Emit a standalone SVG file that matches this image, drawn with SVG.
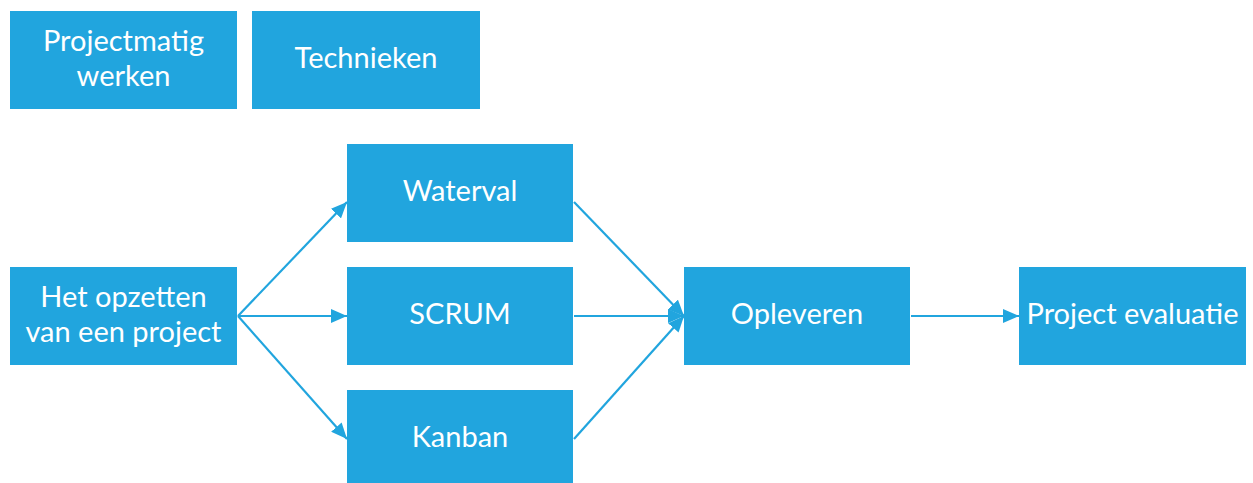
<svg xmlns="http://www.w3.org/2000/svg" width="1253" height="483" viewBox="0 0 1253 483">
<style>
.box{fill:#21a5de;}
.t{font-family:Lato,"Open Sans","Liberation Sans",sans-serif;font-size:29px;fill:#ffffff;text-anchor:middle;}
.c{stroke:#21a5de;stroke-width:2.2;fill:none;}
</style>
<defs>
<marker id="ah" markerWidth="16" markerHeight="14" refX="16" refY="7" orient="auto" markerUnits="userSpaceOnUse">
<path d="M0,0 L16,7 L0,14 Z" fill="#21a5de"/>
</marker>
</defs>
<rect width="1253" height="483" fill="#ffffff"/>
<g id="n-projectmatig"><rect class="box" x="10" y="11" width="227" height="98"/><text class="t" x="123.5" y="51">Projectmatig</text><text class="t" x="123.5" y="86">werken</text></g>
<g id="n-technieken"><rect class="box" x="252" y="11" width="228" height="98"/><text class="t" x="366" y="68">Technieken</text></g>
<g id="n-opzetten"><rect class="box" x="10" y="267" width="227" height="98"/><text class="t" x="123.5" y="307">Het opzetten</text><text class="t" x="123.5" y="342">van een project</text></g>
<g id="n-waterval"><rect class="box" x="347" y="144" width="226" height="98"/><text class="t" x="460" y="201">Waterval</text></g>
<g id="n-scrum"><rect class="box" x="347" y="267" width="226" height="98"/><text class="t" x="460" y="324">SCRUM</text></g>
<g id="n-kanban"><rect class="box" x="347" y="390" width="226" height="93"/><text class="t" x="460" y="447">Kanban</text></g>
<g id="n-opleveren"><rect class="box" x="684" y="267" width="226" height="98"/><text class="t" x="797" y="324">Opleveren</text></g>
<g id="n-evaluatie"><rect class="box" x="1019" y="267" width="227" height="98"/><text class="t" x="1132.5" y="324">Project evaluatie</text></g>
<g id="connectors">
<line class="c" x1="238" y1="316" x2="347" y2="202" marker-end="url(#ah)"/>
<line class="c" x1="238" y1="316" x2="347" y2="316" marker-end="url(#ah)"/>
<line class="c" x1="238" y1="316" x2="347" y2="439" marker-end="url(#ah)"/>
<line class="c" x1="574" y1="202" x2="684" y2="316" marker-end="url(#ah)"/>
<line class="c" x1="574" y1="316" x2="684" y2="316" marker-end="url(#ah)"/>
<line class="c" x1="574" y1="439" x2="684" y2="316" marker-end="url(#ah)"/>
<line class="c" x1="911" y1="316" x2="1019" y2="316" marker-end="url(#ah)"/>
</g>
</svg>
